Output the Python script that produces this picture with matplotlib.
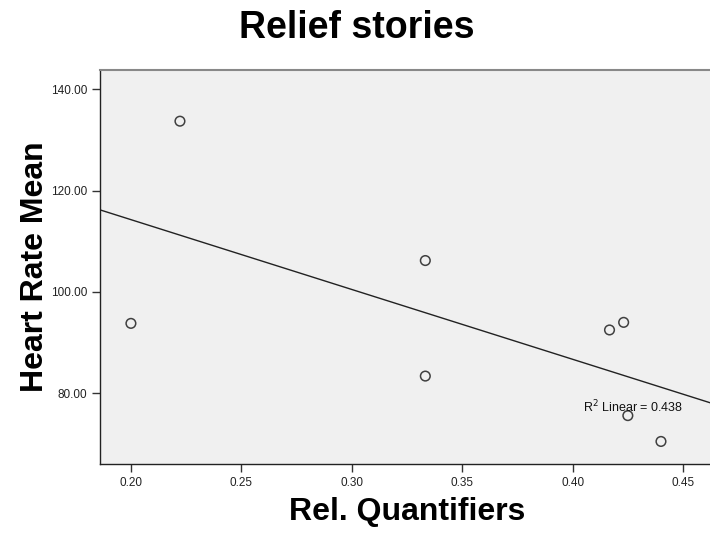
import numpy as np
import matplotlib
matplotlib.use("Agg")
import matplotlib.pyplot as plt

plt.rcParams['font.family'] = ['Liberation Sans', 'DejaVu Sans']

rel_quantifiers = [0.2222, 0.2000, 0.3333, 0.3333, 0.4167, 0.4231, 0.4250, 0.4400]
heart_rate_mean = [133.7, 93.8, 106.2, 83.4, 92.5, 94.0, 75.6, 70.5]
x_ticks = [0.20, 0.25, 0.30, 0.35, 0.40, 0.45]
y_ticks = [80.0, 100.0, 120.0, 140.0]
r2_label = "R$^2$ Linear = 0.438"

x = np.array(rel_quantifiers)
y = np.array(heart_rate_mean)
slope, intercept = np.polyfit(x, y, 1)

fig = plt.figure(figsize=(7.10, 5.35), dpi=100)
ax = fig.add_axes([100 / 710, 1 - 464 / 535, 1 - 100 / 710, (464 - 70) / 535])
ax.set_facecolor('#F0F0F0')

xlim = (0.186, 0.4622)
ylim = (66.05, 143.8)
ax.set_xlim(*xlim)
ax.set_ylim(*ylim)

xl = np.array(xlim)
ax.plot(xl, slope * xl + intercept, color='#222222', lw=1.0, zorder=2)
ax.scatter(x, y, s=48, facecolors='none', edgecolors='#404040', linewidths=1.1, zorder=3)

ax.text(0.4047, 76.2, r2_label, fontsize=9, color='#111111',
        va='baseline', ha='left', zorder=4)

ax.set_xticks(x_ticks)
ax.set_xticklabels([f"{t:.2f}" for t in x_ticks])
ax.set_yticks(y_ticks)
ax.set_yticklabels([f"{t:.2f}" for t in y_ticks])
ax.tick_params(axis='both', direction='out', length=6, width=1, color='#333333',
               labelsize=8.5, labelcolor='#222222', pad=3)

for s in ['left', 'bottom']:
    ax.spines[s].set_color('#222222')
    ax.spines[s].set_linewidth(1.0)
ax.spines['top'].set_color('#888888')
ax.spines['top'].set_linewidth(1.5)
ax.spines['right'].set_visible(False)

fig.text(357 / 710, 1 - 37.5 / 535, "Relief stories", fontsize=27, fontweight='bold',
         ha='center', va='baseline')
fig.text(407 / 710, 1 - 512 / 535, "Rel. Quantifiers", fontsize=23, fontweight='bold',
         ha='center', va='center')
fig.text(43.5 / 710, 1 - 267 / 535, "Heart Rate Mean", fontsize=23, fontweight='bold',
         ha='center', va='baseline', rotation=90, rotation_mode='anchor')

fig.savefig("out.png", dpi=100, facecolor='white')
